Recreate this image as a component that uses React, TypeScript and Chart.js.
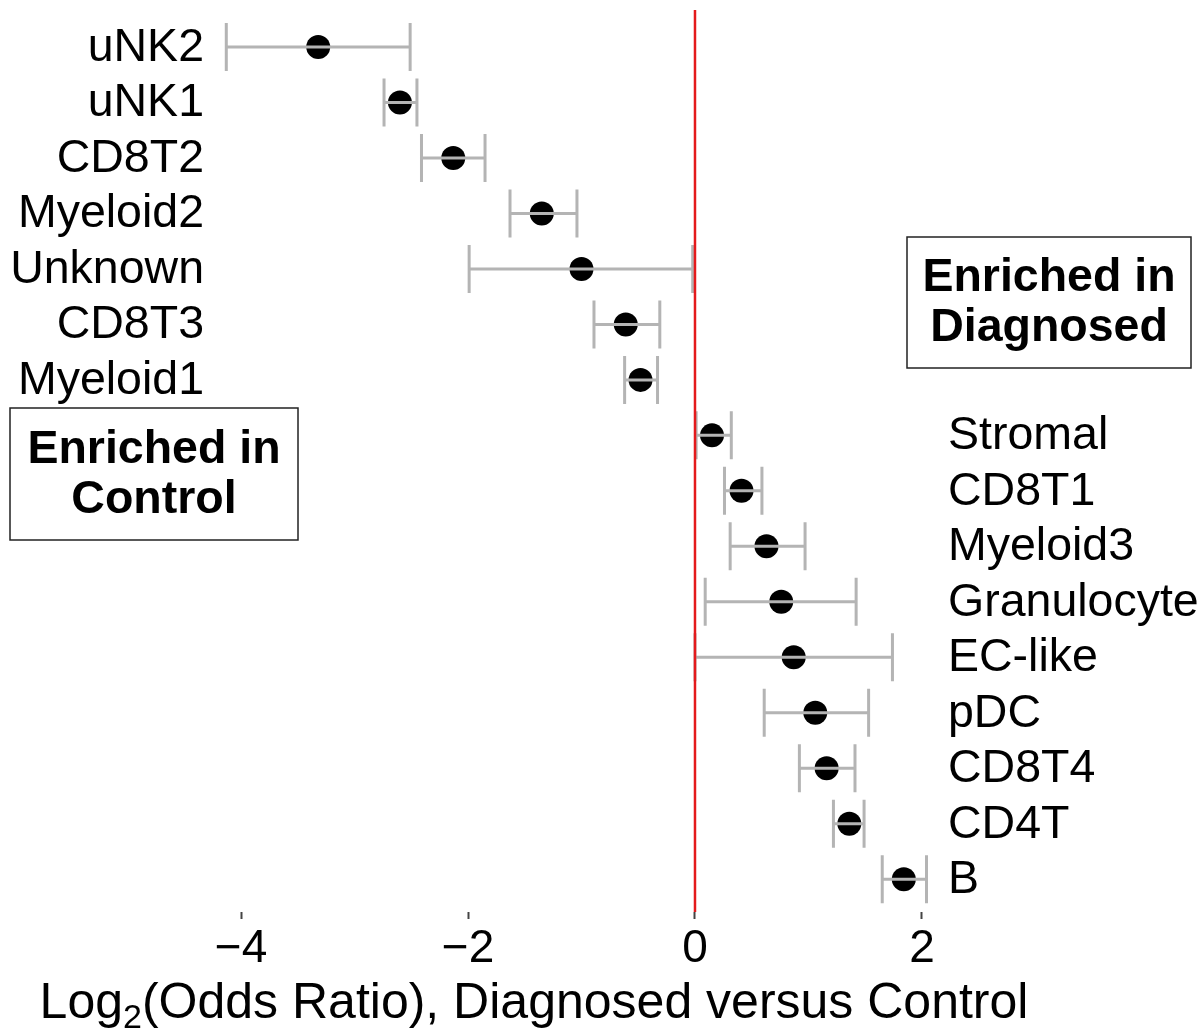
import React, { useEffect, useRef } from "react";
import { Chart, registerables } from "chart.js";

Chart.register(...registerables);

// ---- Data ----
const cellTypes = [
  "uNK2", "uNK1", "CD8T2", "Myeloid2", "Unknown", "CD8T3", "Myeloid1",
  "Stromal", "CD8T1", "Myeloid3", "Granulocyte", "EC-like", "pDC", "CD8T4", "CD4T", "B",
];
const log2OddsRatio = [
  -3.32, -2.6, -2.13, -1.35, -1.0, -0.61, -0.48,
  0.15, 0.41, 0.63, 0.76, 0.87, 1.06, 1.16, 1.36, 1.84,
];
const ciLower = [
  -4.13, -2.74, -2.41, -1.63, -1.99, -0.89, -0.62,
  0.01, 0.26, 0.31, 0.09, 0.0, 0.61, 0.92, 1.22, 1.65,
];
const ciUpper = [
  -2.51, -2.45, -1.85, -1.04, -0.02, -0.31, -0.33,
  0.32, 0.59, 0.97, 1.42, 1.74, 1.53, 1.41, 1.49, 2.04,
];
const xTickValues = [-4, -2, 0, 2];
const axisTitleMain = "Log";
const axisTitleSub = "2";
const axisTitleRest = "(Odds Ratio), Diagnosed versus Control";
const leftBoxLines = ["Enriched in", "Control"];
const rightBoxLines = ["Enriched in", "Diagnosed"];

const FONT = "'Liberation Sans', Arial, Helvetica, sans-serif";

const forestPlugin = {
  id: "forestPlugin",
  afterDatasetsDraw(chart: any) {
    const { ctx, scales, chartArea } = chart;
    const xs = scales.x;
    const ys = scales.y;
    ctx.save();

    // error bars (drawn over the points)
    ctx.strokeStyle = "#b4b4b4";
    ctx.lineWidth = 3;
    ctx.lineCap = "butt";
    cellTypes.forEach((_, i) => {
      const py = ys.getPixelForValue(i);
      const x0 = xs.getPixelForValue(ciLower[i]);
      const x1 = xs.getPixelForValue(ciUpper[i]);
      ctx.beginPath();
      ctx.moveTo(x0, py);
      ctx.lineTo(x1, py);
      ctx.moveTo(x0, py - 24);
      ctx.lineTo(x0, py + 24);
      ctx.moveTo(x1, py - 24);
      ctx.lineTo(x1, py + 24);
      ctx.stroke();
    });

    // reference line at 0
    const zx = xs.getPixelForValue(0);
    ctx.strokeStyle = "#e41a1c";
    ctx.lineWidth = 2.5;
    ctx.beginPath();
    ctx.moveTo(zx, chartArea.top - 2);
    ctx.lineTo(zx, chartArea.bottom);
    ctx.stroke();

    // row labels
    ctx.fillStyle = "#000";
    ctx.font = `46.5px ${FONT}`;
    ctx.textBaseline = "middle";
    cellTypes.forEach((name, i) => {
      const py = ys.getPixelForValue(i);
      if (log2OddsRatio[i] < 0) {
        ctx.textAlign = "right";
        ctx.fillText(name, 204, py + 1);
      } else {
        ctx.textAlign = "left";
        ctx.fillText(name, 948, py + 1);
      }
    });

    // annotation boxes
    const drawBox = (bx: number, by: number, bw: number, bh: number, lines: string[]) => {
      ctx.strokeStyle = "#222";
      ctx.lineWidth = 1.5;
      ctx.strokeRect(bx, by, bw, bh);
      ctx.font = `bold 46.5px ${FONT}`;
      ctx.textAlign = "center";
      ctx.textBaseline = "middle";
      ctx.fillStyle = "#000";
      const cx = bx + bw / 2;
      ctx.fillText(lines[0], cx, by + bh / 2 - 24);
      ctx.fillText(lines[1], cx, by + bh / 2 + 26);
    };
    drawBox(10, 408, 288, 132, leftBoxLines);
    drawBox(907, 237, 284, 131, rightBoxLines);

    // axis title with subscript
    const mainFont = `50px ${FONT}`;
    const subFont = `34px ${FONT}`;
    ctx.textAlign = "left";
    ctx.textBaseline = "alphabetic";
    ctx.font = mainFont;
    const w1 = ctx.measureText(axisTitleMain).width;
    const w3 = ctx.measureText(axisTitleRest).width;
    ctx.font = subFont;
    const w2 = ctx.measureText(axisTitleSub).width;
    const total = w1 + w2 + w3;
    let tx = 534 - total / 2;
    const baseY = 1018;
    ctx.font = mainFont;
    ctx.fillText(axisTitleMain, tx, baseY);
    tx += w1;
    ctx.font = subFont;
    ctx.fillText(axisTitleSub, tx, baseY + 10);
    tx += w2;
    ctx.font = mainFont;
    ctx.fillText(axisTitleRest, tx, baseY);

    ctx.restore();
  },
};

export default function App() {
  const canvasRef = useRef<HTMLCanvasElement | null>(null);

  useEffect(() => {
    document.body.style.margin = "0";
    const canvas = canvasRef.current;
    if (!canvas) return;
    const chart = new Chart(canvas, {
      type: "scatter",
      data: {
        datasets: [
          {
            data: log2OddsRatio.map((v, i) => ({ x: v, y: i })),
            backgroundColor: "#000",
            borderColor: "#000",
            borderWidth: 0,
            pointRadius: 12,
            pointHoverRadius: 12,
          },
        ],
      },
      options: {
        animation: false,
        responsive: true,
        maintainAspectRatio: false,
        events: [],
        layout: { padding: { top: 10, left: 207, right: 245, bottom: 0 } },
        plugins: {
          legend: { display: false },
          tooltip: { enabled: false },
          title: { display: false },
        },
        scales: {
          x: {
            type: "linear",
            min: -4.3,
            max: 2.3,
            afterBuildTicks: (scale: any) => {
              scale.ticks = xTickValues.map((v) => ({ value: v }));
            },
            afterFit: (scale: any) => {
              scale.height = 121;
            },
            border: { display: false },
            grid: {
              drawOnChartArea: false,
              drawTicks: true,
              tickLength: 7,
              tickWidth: 2,
              tickColor: "#444",
            },
            ticks: {
              padding: 3,
              color: "#000",
              font: { size: 46, family: FONT },
              maxRotation: 0,
              autoSkip: false,
              callback: (v: any) => String(v).replace("-", "\u2212"),
            },
          },
          y: {
            type: "linear",
            reverse: true,
            min: -0.63,
            max: 15.59,
            display: false,
          },
        },
      },
      plugins: [forestPlugin],
    });
    return () => chart.destroy();
  }, []);

  return (
    <div style={{ position: "absolute", left: 0, top: 0, width: 1201, height: 1033, background: "#fff" }}>
      <canvas ref={canvasRef} />
    </div>
  );
}
